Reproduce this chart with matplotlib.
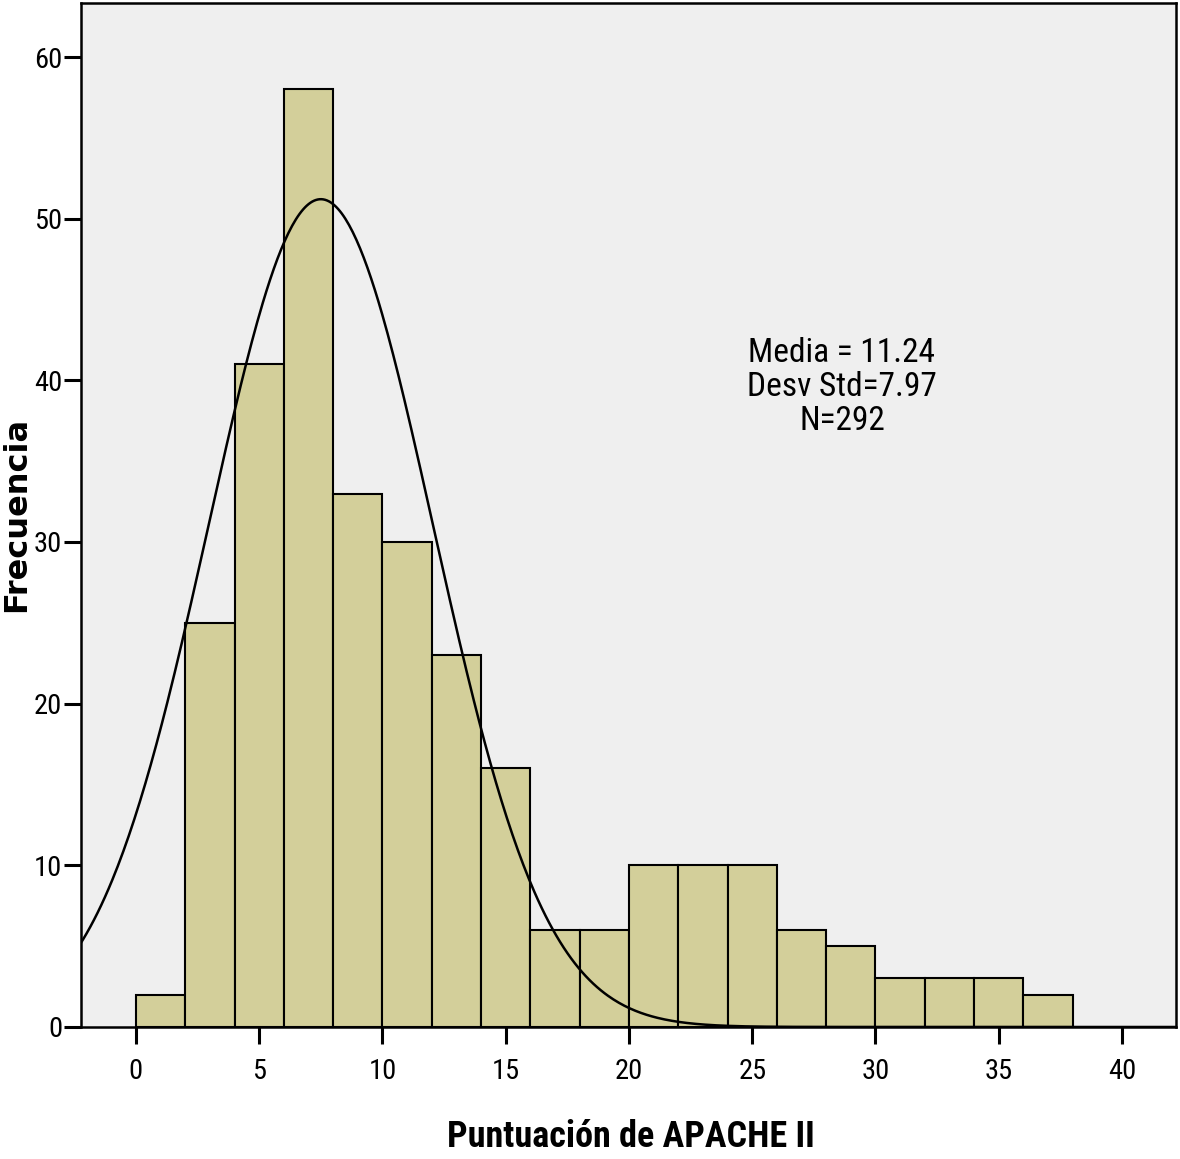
import numpy as np
import matplotlib.pyplot as plt
from matplotlib import font_manager
from matplotlib.font_manager import FontProperties

# histogram data (bins of width 2, left edges)
bin_left = [0, 2, 4, 6, 8, 10, 12, 14, 16, 18, 20, 22, 24, 26, 28, 30, 32, 34, 36]
counts = [2, 25, 41, 58, 33, 30, 23, 16, 6, 6, 10, 10, 10, 6, 5, 3, 3, 3, 2]
n_total = 292
# normal curve as drawn in the original
curve_mean = 7.5
curve_sd = 4.55
stats_text = "Media = 11.24\nDesv Std=7.97\nN=292"

# look for a condensed / narrow sans font
def find_narrow(bold=False):
    cands = []
    for f in font_manager.fontManager.ttflist:
        nm = f.name + ' ' + f.fname
        narrowish = ('Narrow' in nm or 'Condensed' in nm or f.stretch in ('condensed', 'semi-condensed', 'extra-condensed'))
        if not narrowish or 'Serif' in nm or 'Mono' in nm or f.style != 'normal':
            continue
        isbold = f.weight in ('bold', 700, 'semibold', 600) or (isinstance(f.weight, int) and f.weight >= 600)
        if isbold != bold:
            continue
        cands.append(f)
    pref = ['Liberation Sans Narrow', 'Roboto Condensed', 'DejaVu Sans']
    for p in pref:
        for f in cands:
            if f.name == p:
                return FontProperties(fname=f.fname)
    if cands:
        return FontProperties(fname=cands[0].fname)
    return FontProperties(family='DejaVu Sans', weight='bold' if bold else 'normal')

fp_reg = find_narrow(False)
fp_bold = find_narrow(True)

fig = plt.figure(figsize=(11.8, 11.59), dpi=100)
ax = fig.add_axes([0.0686, 0.1139, 0.9280, 0.8835])
ax.set_facecolor('#efefef')

ax.bar(bin_left, counts, width=2, align='edge', color='#d3cf9a',
       edgecolor='black', linewidth=1.5, zorder=2)

xs = np.linspace(-2.3, 42.3, 600)
ys = n_total * 2 / (curve_sd * np.sqrt(2 * np.pi)) * np.exp(-(xs - curve_mean) ** 2 / (2 * curve_sd ** 2))
ax.plot(xs, ys, color='black', linewidth=1.8, zorder=3)

ax.set_xlim(-2.23, 42.19)
ax.set_ylim(0, 63.34)
ax.set_xticks(np.arange(0, 41, 5))
ax.set_yticks(np.arange(0, 61, 10))
ax.tick_params(direction='out', length=12, width=2.2)
ax.tick_params(axis='x', pad=10)
ax.tick_params(axis='y', pad=1.5)
for lab in ax.get_xticklabels() + ax.get_yticklabels():
    lab.set_fontproperties(fp_reg)
    lab.set_fontsize(20.5)
for s in ax.spines.values():
    s.set_linewidth(1.8)

ax.text(28.64, 39.6, stats_text, ha='center', va='center', fontproperties=fp_reg,
        fontsize=24, linespacing=1.08)

fig.text(0.0142, 0.5565, 'Frecuencia', rotation=90, ha='center', va='center',
         fontsize=23, fontweight='bold', family='DejaVu Sans')
t = fig.text(0.535, 0.019, 'Puntuación de APACHE II', ha='center', va='center',
             fontproperties=fp_bold)
t.set_fontsize(26)

fig.savefig('out.png', dpi=100)
